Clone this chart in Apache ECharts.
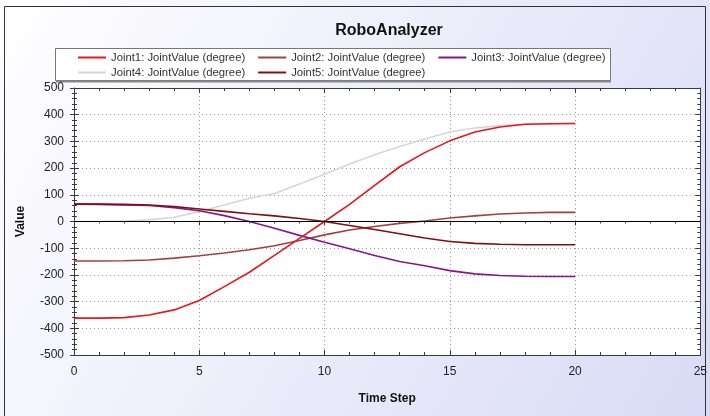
<!DOCTYPE html>
<html>
<head>
<meta charset="utf-8">
<script src="https://cdn.jsdelivr.net/npm/echarts@6/dist/echarts.min.js"></script>
<style>
html,body{margin:0;padding:0;background:#fff;}
#chart{width:710px;height:416px;}
</style>
</head>
<body>
<div id="chart"></div>
<script>
const timeSteps = [0,1,2,3,4,5,6,7,8,9,10,11,12,13,14,15,16,17,18,19,20];
const joint1 = [-362,-362,-360,-350,-331,-296,-244,-190,-127,-63,0,64,135,205,258,302,335,354,364,366,367];
const joint2 = [-148,-148,-147,-144,-137,-128,-118,-106,-91,-71,-50,-32,-19,-7,2,13,21,28,32,34,34];
const joint3 = [65,64,62,60,52,40,22,0,-25,-52,-78,-102,-127,-150,-166,-184,-196,-202,-205,-206,-206];
const joint4 = [0,0,2,6,16,37,62,87,105,140,177,215,250,281,309,335,350,359,364,366,367];
const joint5 = [65,65,64,62,56,47,38,29,21,11,0,-15,-30,-46,-62,-75,-82,-85,-87,-87,-87];
const seriesNames = ['Joint1: JointValue (degree)','Joint2: JointValue (degree)','Joint3: JointValue (degree)','Joint4: JointValue (degree)','Joint5: JointValue (degree)'];
const seriesColors = ['#e3171c','#a3403f','#84168a','#d6d6d6','#7a1212'];
const xTicks = {min:0, max:25, interval:5};
const yTicks = {min:-500, max:500, interval:100};

const FONT = '"Liberation Sans",Arial,sans-serif';
const chart = echarts.init(document.getElementById('chart'), null, {renderer:'canvas'});

function pairs(vals){ return timeSteps.map((t,i)=>[t, vals[i]]); }
const allData = [joint1, joint2, joint3, joint4, joint5];

const axisLineStyle = {color:'#3a3a3a', width:1};
function xAx(opts){
  return Object.assign({type:'value', min:xTicks.min, max:xTicks.max, interval:xTicks.interval,
    axisLine:{show:true, onZero:false, lineStyle:axisLineStyle},
    axisLabel:{show:false}, splitLine:{show:false}}, opts);
}
function yAx(opts){
  return Object.assign({type:'value', min:yTicks.min, max:yTicks.max, interval:yTicks.interval,
    axisLine:{show:true, onZero:false, lineStyle:axisLineStyle},
    axisLabel:{show:false}, splitLine:{show:false}}, opts);
}
const legendText = {fontSize:11.3, color:'#333', fontFamily:FONT};

const option = {
  animation:false,
  graphic:[
    {type:'rect', z:-10, silent:true, shape:{x:0,y:0,width:710,height:416},
     style:{fill:new echarts.graphic.LinearGradient(0,0,1,1,[{offset:0,color:'#ffffff'},{offset:1,color:'#d9dbf6'}])}},
    {type:'rect', z:-9, silent:true, shape:{x:4.5,y:6.5,width:701,height:420},
     style:{fill:'none', stroke:'#333', lineWidth:1}},
    {type:'rect', z:-8, silent:true, shape:{x:55.5,y:48.5,width:555,height:32},
     style:{fill:'#ffffff', stroke:'#777', lineWidth:1}},
    {type:'line', z:-7, silent:true, shape:{x1:56,y1:81.5,x2:611,y2:81.5},
     style:{stroke:'#888', lineWidth:2}}
  ],
  title:{text:'RoboAnalyzer', left:384, top:18, textAlign:'center',
    textStyle:{fontSize:16, fontWeight:'bold', color:'#111', fontFamily:FONT}},
  legend:[
    {data:seriesNames.slice(0,3), left:78, top:52, padding:0, orient:'horizontal', icon:'rect', itemWidth:28, itemHeight:2, itemGap:13,
      textStyle:legendText, selectedMode:false},
    {data:seriesNames.slice(3), left:78, top:67, padding:0, orient:'horizontal', icon:'rect', itemWidth:28, itemHeight:2, itemGap:13,
      textStyle:legendText, selectedMode:false}
  ],
  grid:{left:74, right:9, top:88, bottom:61, show:true, backgroundColor:'#ffffff', borderWidth:0},
  xAxis:[
    xAx({position:'bottom', name:'Time Step', nameLocation:'middle', nameGap:38,
      nameTextStyle:{fontSize:12, fontWeight:'bold', color:'#111', fontFamily:FONT},
      axisTick:{show:true, inside:true, length:5, lineStyle:axisLineStyle},
      minorTick:{show:true, splitNumber:5, length:3, lineStyle:axisLineStyle},
      axisLabel:{show:true, margin:11, fontSize:12, color:'#222', fontFamily:FONT},
      splitLine:{show:true, lineStyle:{color:'#9a9a9a', type:[1,3], width:1}}}),
    xAx({position:'bottom', axisLine:{show:false},
      axisTick:{show:true, inside:false, length:4, lineStyle:axisLineStyle},
      minorTick:{show:true, splitNumber:5, length:2, lineStyle:axisLineStyle}}),
    xAx({position:'top',
      axisTick:{show:true, inside:true, length:5, lineStyle:axisLineStyle},
      minorTick:{show:true, splitNumber:5, length:3, lineStyle:axisLineStyle}})
  ],
  yAxis:[
    yAx({position:'left', name:'Value', nameLocation:'middle', nameGap:47, nameRotate:90,
      nameTextStyle:{fontSize:12, fontWeight:'bold', color:'#111', fontFamily:FONT},
      axisTick:{show:true, inside:true, length:5, lineStyle:axisLineStyle},
      minorTick:{show:true, splitNumber:5, length:3, lineStyle:axisLineStyle},
      axisLabel:{show:true, margin:10, fontSize:12, color:'#222', fontFamily:FONT},
      splitLine:{show:true, lineStyle:{color:'#9a9a9a', type:[1,3], width:1}}}),
    yAx({position:'left', axisLine:{show:false},
      axisTick:{show:true, inside:false, length:4, lineStyle:axisLineStyle},
      minorTick:{show:true, splitNumber:5, length:2, lineStyle:axisLineStyle}}),
    yAx({position:'right',
      axisTick:{show:true, inside:true, length:5, lineStyle:axisLineStyle},
      minorTick:{show:true, splitNumber:5, length:3, lineStyle:axisLineStyle}})
  ],
  series: seriesNames.map((name,i)=>{
    const s = {name:name, type:'line', xAxisIndex:0, yAxisIndex:0, data:pairs(allData[i]),
      symbol:'none', showSymbol:false, smooth:false, color:seriesColors[i],
      lineStyle:{color:seriesColors[i], width:1.6}, z: i===0 ? 4 : 3};
    if(i===3){
      s.markLine = {silent:true, symbol:'none', label:{show:false}, animation:false,
        lineStyle:{color:'#000', type:'solid', width:1}, data:[{yAxis:0}]};
      s.z = 2;
    }
    return s;
  })
};
chart.setOption(option);
</script>
</body>
</html>
